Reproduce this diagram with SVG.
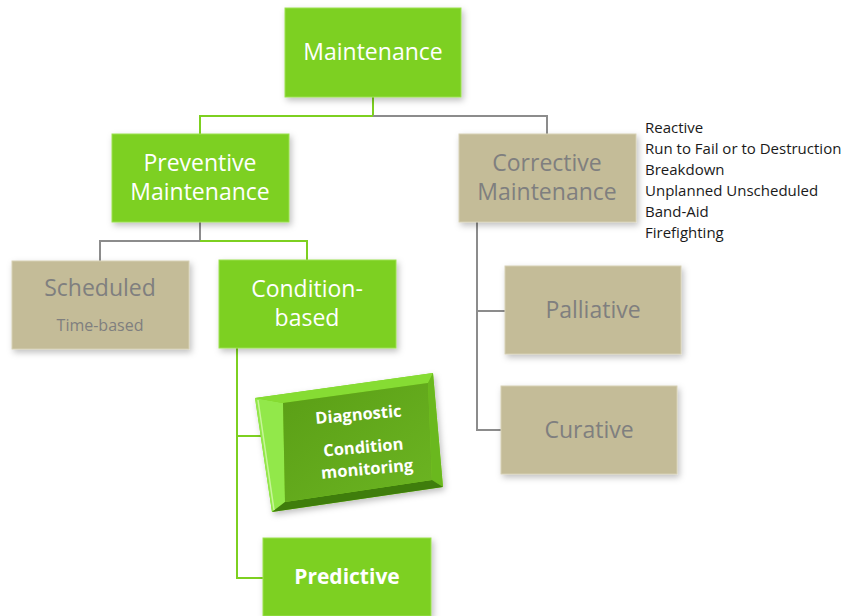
<svg xmlns="http://www.w3.org/2000/svg" width="846" height="616" viewBox="0 0 846 616">
<style>
.g{fill:#7dd020;stroke:#9be04f;stroke-width:1}
.t{fill:#c4bc98;stroke:#d6d0b4;stroke-width:1}
.wt{font-family:"Open Sans","Liberation Sans",sans-serif;fill:#ffffff;text-anchor:middle}
.gt{font-family:"Open Sans","Liberation Sans",sans-serif;fill:#7f7f7f;text-anchor:middle}
.lst{font-family:"Open Sans","Liberation Sans",sans-serif;fill:#1a1a1a;font-size:15px}
.lg{stroke:#7dd020;stroke-width:2;fill:none}
.lgr{stroke:#8c8c8c;stroke-width:2;fill:none}
</style>
<defs>
<filter id="sh" x="-10%" y="-10%" width="130%" height="130%">
<feDropShadow dx="2" dy="3" stdDeviation="3" flood-color="#000" flood-opacity="0.25"/>
</filter>
<linearGradient id="face" x1="0" y1="0" x2="1" y2="1">
<stop offset="0" stop-color="#5a9e16"/>
<stop offset="1" stop-color="#6cb522"/>
</linearGradient>
</defs>
<rect width="846" height="616" fill="#ffffff"/>
<g id="connectors">
<path class="lg" d="M373 97V116H200V134"/>
<path class="lgr" d="M373 116H547V134"/>
<path class="lgr" d="M200 222V241H100V261"/>
<path class="lg" d="M200 241H307V260"/>
<path class="lg" d="M237 348V578H263"/>
<path class="lg" d="M237 436H262"/>
<path class="lgr" d="M477 222V430H501"/>
<path class="lgr" d="M477 311H505"/>
</g>
<g id="maintenance">
<rect class="g" x="285" y="8" width="176" height="89" filter="url(#sh)"/>
<text class="wt" x="373" y="60" font-size="23">Maintenance</text>
</g>
<g id="preventive">
<rect class="g" x="112" y="134" width="177" height="88" filter="url(#sh)"/>
<text class="wt" x="200" y="171" font-size="23">Preventive</text>
<text class="wt" x="200" y="200" font-size="23">Maintenance</text>
</g>
<g id="corrective">
<rect class="t" x="459" y="134" width="177" height="88" filter="url(#sh)"/>
<text class="gt" x="547" y="171" font-size="23">Corrective</text>
<text class="gt" x="547" y="200" font-size="23">Maintenance</text>
</g>
<g id="corrective-list">
<text class="lst" x="645" y="133">Reactive</text>
<text class="lst" x="645" y="154">Run to Fail or to Destruction</text>
<text class="lst" x="645" y="175">Breakdown</text>
<text class="lst" x="645" y="196">Unplanned Unscheduled</text>
<text class="lst" x="645" y="217">Band-Aid</text>
<text class="lst" x="645" y="238">Firefighting</text>
</g>
<g id="scheduled">
<rect class="t" x="12" y="261" width="177" height="88" filter="url(#sh)"/>
<text class="gt" x="100" y="296" font-size="23">Scheduled</text>
<text class="gt" x="100" y="331" font-size="16">Time-based</text>
</g>
<g id="condition-based">
<rect class="g" x="219" y="260" width="177" height="88" filter="url(#sh)"/>
<text class="wt" x="307" y="297" font-size="23">Condition-</text>
<text class="wt" x="307" y="326" font-size="23">based</text>
</g>
<g id="diagnostic">
<g filter="url(#sh)">
<polygon points="255,398 433,373 443,487 272,512" fill="#7dd020"/>
</g>
<polygon points="255,398 283,403 285,502 272,512" fill="#92e84a"/>
<polygon points="255,398 433,373 428,383 283,403" fill="#86dc33"/>
<polygon points="433,373 443,487 432,480 428,383" fill="#6ab81e"/>
<polygon points="443,487 272,512 285,502 432,480" fill="#3f7d0c"/>
<polygon points="283,403 428,383 432,480 285,502" fill="url(#face)"/>
<line x1="258" y1="400" x2="274" y2="510" stroke="#c8f59a" stroke-width="1.5"/>
<g transform="rotate(-5 362 445)">
<text class="wt" x="361" y="420" font-size="16.5" font-weight="bold">Diagnostic</text>
<text class="wt" x="363" y="453" font-size="16.5" font-weight="bold">Condition</text>
<text class="wt" x="365" y="475" font-size="16.5" font-weight="bold">monitoring</text>
</g>
</g>
<g id="predictive">
<rect class="g" x="263" y="538" width="168" height="78" filter="url(#sh)"/>
<text class="wt" x="347" y="584" font-size="21" font-weight="bold">Predictive</text>
</g>
<g id="palliative">
<rect class="t" x="505" y="266" width="176" height="88" filter="url(#sh)"/>
<text class="gt" x="593" y="318" font-size="23">Palliative</text>
</g>
<g id="curative">
<rect class="t" x="501" y="386" width="176" height="88" filter="url(#sh)"/>
<text class="gt" x="589" y="438" font-size="23">Curative</text>
</g>
</svg>
